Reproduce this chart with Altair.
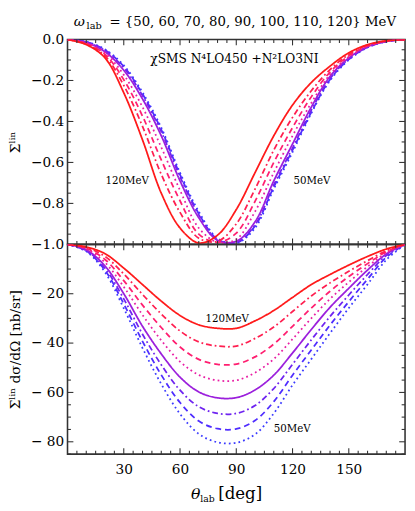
import altair as alt
import pandas as pd

# ---------------- data ----------------
THETA = [0, 10, 20, 30, 40, 50, 60, 70, 80, 90, 100, 110, 120, 130, 140, 150, 160, 170, 180]
ENERGY = [50, 60, 70, 80, 90, 100, 110, 120]

# top panel: Sigma^lin
SIG_050 = [0, -0.011, -0.048, -0.126, -0.258, -0.43, -0.65, -0.84, -0.97, -0.995, -0.92, -0.73, -0.55, -0.36, -0.2, -0.1, -0.039, -0.01, 0]
SIG_060 = [0, -0.012, -0.051, -0.132, -0.266, -0.44, -0.66, -0.85, -0.975, -0.993, -0.91, -0.72, -0.54, -0.355, -0.195, -0.097, -0.038, -0.01, 0]
SIG_070 = [0, -0.013, -0.054, -0.138, -0.274, -0.45, -0.67, -0.855, -0.978, -0.99, -0.905, -0.71, -0.53, -0.345, -0.19, -0.094, -0.037, -0.009, 0]
SIG_080 = [0, -0.015, -0.06, -0.15, -0.29, -0.47, -0.69, -0.87, -0.98, -0.985, -0.89, -0.69, -0.51, -0.33, -0.18, -0.09, -0.035, -0.009, 0]
SIG_090 = [0, -0.017, -0.066, -0.172, -0.33, -0.526, -0.736, -0.92, -0.99, -0.975, -0.84, -0.65, -0.47, -0.31, -0.17, -0.085, -0.033, -0.008, 0]
SIG_100 = [0, -0.019, -0.073, -0.196, -0.374, -0.588, -0.787, -0.95, -0.99, -0.945, -0.79, -0.60, -0.43, -0.28, -0.159, -0.08, -0.031, -0.008, 0]
SIG_110 = [0, -0.022, -0.08, -0.224, -0.424, -0.658, -0.844, -0.97, -0.985, -0.90, -0.73, -0.54, -0.38, -0.25, -0.147, -0.073, -0.028, -0.007, 0]
SIG_120 = [0, -0.025, -0.09, -0.26, -0.49, -0.75, -0.92, -0.993, -0.955, -0.83, -0.65, -0.47, -0.32, -0.21, -0.13, -0.065, -0.025, -0.006, 0]

# bottom panel: Sigma^lin dsigma/dOmega [nb/sr]
XS_050 = [0, -2.83, -11.3, -25.9, -42.0, -56.6, -68.7, -76.8, -80.2, -80.4, -77.0, -68.5, -57.0, -46.5, -36.0, -25.8, -16.2, -6.3, 0]
XS_060 = [0, -2.63, -10.5, -24.1, -39.3, -52.9, -64.1, -71.6, -74.7, -74.8, -71.4, -63.7, -53.0, -42.8, -32.7, -23.2, -14.1, -5.2, 0]
XS_070 = [0, -2.42, -9.66, -22.1, -36.4, -48.8, -59.1, -65.8, -68.5, -68.5, -65.3, -58.4, -48.6, -38.7, -29.2, -20.5, -12.2, -4.5, 0]
XS_080 = [0, -2.19, -8.76, -20.0, -33.2, -44.4, -53.8, -59.8, -62.2, -62.1, -59.0, -53.0, -44.0, -34.5, -25.5, -17.8, -10.4, -3.9, 0]
XS_090 = [0, -1.89, -7.35, -17.2, -28.6, -38.9, -47.5, -52.9, -55.1, -55.1, -52.0, -46.45, -38.4, -29.95, -22.1, -15.3, -9.0, -3.4, 0]
XS_100 = [0, -1.59, -6.11, -14.7, -24.6, -33.7, -41.6, -46.6, -48.6, -48.5, -45.6, -40.4, -33.2, -25.8, -19.0, -13.0, -7.8, -3.0, 0]
XS_110 = [0, -1.29, -4.88, -12.0, -20.3, -28.2, -35.1, -39.5, -41.2, -41.2, -38.1, -33.5, -27.2, -20.9, -15.6, -10.9, -6.6, -2.6, 0]
XS_120 = [0, -1.03, -3.77, -9.6, -16.3, -23.0, -28.8, -32.6, -34.0, -34.0, -31.0, -26.8, -21.5, -16.3, -12.2, -8.4, -4.9, -1.9, 0]

COLORS = ["#3b3bff", "#4f2dff", "#6f24f0", "#9b1fdc", "#e81ea4", "#ff1f70", "#ff1f50", "#ff1a1a"]
DASHES = [[1.8, 3.2], [6, 4], [6, 3, 1.8, 3], [1, 0], [1.8, 3.2], [6, 4], [6, 3, 1.8, 3], [1, 0]]

# tick positions
X_MAJOR = [30, 60, 90, 120, 150]
X_MINOR = [v for v in range(5, 180, 5) if v % 30 != 0]
TOP_Y_MAJOR = [-0.8, -0.6, -0.4, -0.2]
TOP_Y_MINOR = [-0.95, -0.9, -0.85, -0.75, -0.7, -0.65, -0.55, -0.5, -0.45, -0.35, -0.3, -0.25, -0.15, -0.1, -0.05]
BOT_Y_MAJOR = [-80, -60, -40, -20]
BOT_Y_MINOR = [-85, -75, -70, -65, -55, -50, -45, -35, -30, -25, -15, -10, -5]

TOP_LABEL_VALUES = [0.0, -0.2, -0.4, -0.6, -0.8, -1.0]
BOT_LABEL_VALUES = [-80, -60, -40, -20]

# annotations
TOP_ANN_TEXT = ["120MeV", "50MeV", "χSMS N⁴LO450 +N²LO3NI"]
TOP_ANN_X = [31.8, 130.3, 89.0]
TOP_ANN_Y = [-0.69, -0.693, -0.095]
TOP_ANN_SIZE = [10.5, 10.5, 12.5]
BOT_ANN_TEXT = ["120MeV", "50MeV"]
BOT_ANN_X = [85.2, 119.8]
BOT_ANN_Y = [-30.3, -74.9]
BOT_ANN_SIZE = [10.5, 10.5]

FONT = "DejaVu Serif"
W, H1, H2 = 346, 210, 215
FRAME = "#333333"
MAJ, MIN = 6, 3.5


def long_df(series):
    rows = []
    for e, vals in zip(ENERGY, series):
        for t, v in zip(THETA, vals):
            rows.append({"theta": t, "val": v, "E": e})
    return pd.DataFrame(rows)


xscale = alt.Scale(domain=[0, 180], nice=False, zero=False)
ytop = alt.Scale(domain=[-1, 0], nice=False, zero=False)
ybot = alt.Scale(domain=[-85, 0], nice=False, zero=False)

TOP_XAXIS = None
TOP_YAXIS = alt.Axis(values=TOP_LABEL_VALUES, format=".1f", title="Σˡⁱⁿ", labelPadding=4, titlePadding=8)
BOT_XAXIS = alt.Axis(values=X_MAJOR, title=None, labelPadding=9)
BOT_YAXIS = alt.Axis(values=BOT_LABEL_VALUES, labelExpr="'− ' + abs(datum.value)",
                     title="Σˡⁱⁿ dσ/dΩ [nb/sr]", labelPadding=4, titlePadding=8)


def X(xaxis):
    return alt.X("theta:Q", scale=xscale, axis=xaxis)


def frame_ticks(yscale, yaxis, xaxis, ymajor, yminor, height):
    layers = []
    for vals, ln in ((X_MAJOR, MAJ), (X_MINOR, MIN)):
        d = pd.DataFrame({"theta": vals})
        base = alt.Chart(d).mark_rule(color=FRAME, strokeWidth=1.1)
        layers.append(base.encode(x=X(xaxis), y=alt.value(height), y2=alt.value(height - ln)))
        layers.append(base.encode(x=X(xaxis), y=alt.value(0), y2=alt.value(ln)))
    for vals, ln in ((ymajor, MAJ), (yminor, MIN)):
        d = pd.DataFrame({"val": vals})
        base = alt.Chart(d).mark_rule(color=FRAME, strokeWidth=1.1)
        layers.append(base.encode(y=alt.Y("val:Q", scale=yscale, axis=yaxis), x=alt.value(0), x2=alt.value(ln)))
        layers.append(base.encode(y=alt.Y("val:Q", scale=yscale, axis=yaxis), x=alt.value(W), x2=alt.value(W - ln)))
    return layers


color = alt.Color("E:O", scale=alt.Scale(domain=ENERGY, range=COLORS), legend=None)
dash = alt.StrokeDash("E:O", scale=alt.Scale(domain=ENERGY, range=DASHES), legend=None)


def ann_layer(texts, xs, ys, sizes, yscale, yaxis, xaxis):
    d = pd.DataFrame({"t": texts, "theta": xs, "val": ys, "s": sizes})
    return alt.Chart(d).mark_text(font=FONT, color="black").encode(
        x=X(xaxis), y=alt.Y("val:Q", scale=yscale, axis=yaxis),
        text="t:N", size=alt.Size("s:Q", scale=None))


def txt(s, x, y, size, italic=False):
    kw = dict(font=FONT, fontSize=size, align="left", baseline="alphabetic", color="black")
    if italic:
        kw["fontStyle"] = "italic"
    return alt.Chart(pd.DataFrame({"t": [s]})).mark_text(**kw).encode(
        x=alt.value(x), y=alt.value(y), text="t:N")


# ---------------- top panel ----------------
top_df = long_df([SIG_050, SIG_060, SIG_070, SIG_080, SIG_090, SIG_100, SIG_110, SIG_120])
top_lines = alt.Chart(top_df).mark_line(strokeWidth=1.8, interpolate="catmull-rom", clip=True).encode(
    x=X(TOP_XAXIS), y=alt.Y("val:Q", scale=ytop, axis=TOP_YAXIS),
    color=color, strokeDash=dash,
)
top_ann = ann_layer(TOP_ANN_TEXT, TOP_ANN_X, TOP_ANN_Y, TOP_ANN_SIZE, ytop, TOP_YAXIS, TOP_XAXIS)
title_parts = [
    txt("ω", 6.5, -13.5, 14, italic=True),
    txt("lab", 19.5, -10.5, 10),
    txt("= {50, 60, 70, 80, 90, 100, 110, 120} MeV", 43, -13.5, 13.6),
]
top = alt.layer(top_lines, *frame_ticks(ytop, TOP_YAXIS, TOP_XAXIS, TOP_Y_MAJOR, TOP_Y_MINOR, H1),
                top_ann, *title_parts).properties(width=W, height=H1)

# ---------------- bottom panel ----------------
bot_df = long_df([XS_050, XS_060, XS_070, XS_080, XS_090, XS_100, XS_110, XS_120])
bot_lines = alt.Chart(bot_df).mark_line(strokeWidth=1.8, interpolate="catmull-rom", clip=True).encode(
    x=X(BOT_XAXIS), y=alt.Y("val:Q", scale=ybot, axis=BOT_YAXIS),
    color=color, strokeDash=dash,
)
bot_ann = ann_layer(BOT_ANN_TEXT, BOT_ANN_X, BOT_ANN_Y, BOT_ANN_SIZE, ybot, BOT_YAXIS, BOT_XAXIS)
xtitle_parts = [
    txt("θ", 126.5, H2 + 46.5, 16, italic=True),
    txt("lab", 136, H2 + 49.5, 9.5),
    txt("[deg]", 154.5, H2 + 46.5, 17),
]
bottom = alt.layer(bot_lines, *frame_ticks(ybot, BOT_YAXIS, BOT_XAXIS, BOT_Y_MAJOR, BOT_Y_MINOR, H2),
                   bot_ann, *xtitle_parts).properties(width=W, height=H2)

chart = alt.vconcat(top, bottom, spacing=0, bounds="flush").properties(
    padding={"left": 0, "top": 0, "right": 0, "bottom": 0}
).configure_view(stroke=FRAME, strokeWidth=1.6).configure_axis(
    labelFont=FONT, labelFontSize=14, labelColor="black", titleFont=FONT, titleFontSize=14,
    titleFontWeight="normal", titleColor="black", domain=False, ticks=False, grid=False,
).configure_concat(spacing=0)

chart.save("out.html", embed_options={"renderer": "svg", "actions": False})
